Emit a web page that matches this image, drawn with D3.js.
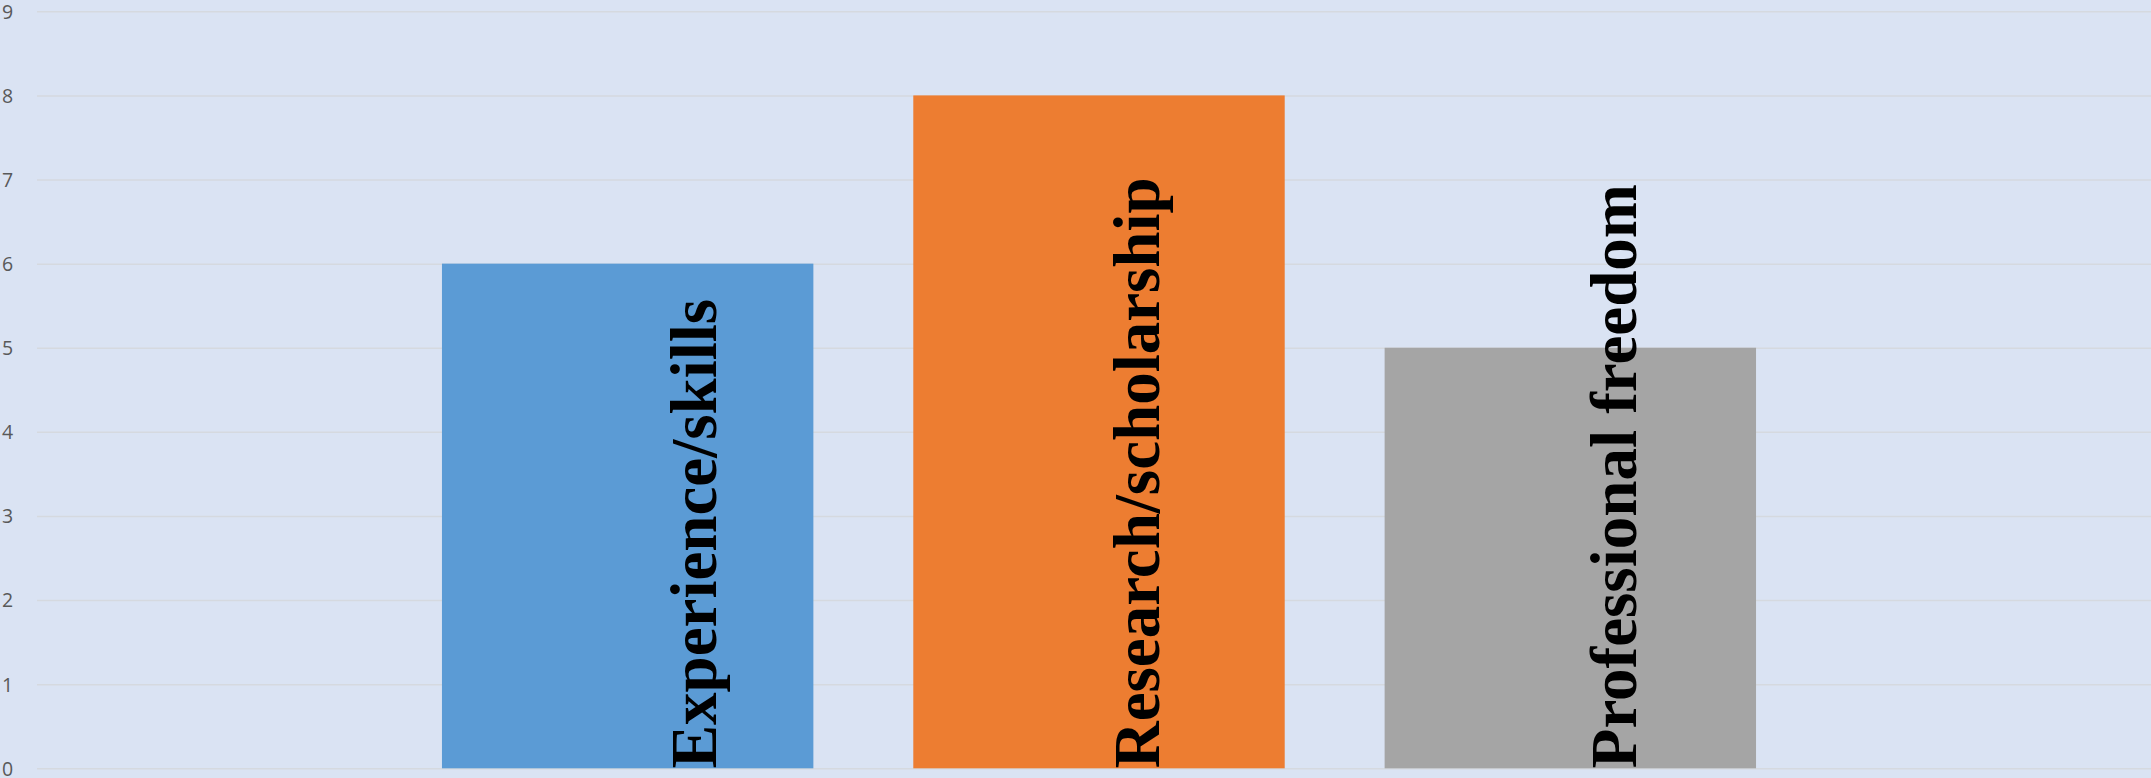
<!DOCTYPE html>
<html>
<head>
<meta charset="utf-8">
<script src="https://cdn.jsdelivr.net/npm/d3@7"></script>
<style>
  html, body { margin: 0; padding: 0; background: #DAE3F3; overflow: hidden; }
  svg { display: block; }
</style>
</head>
<body>
<svg id="chart" width="2151" height="778"></svg>
<script>
// Chart data
const categories = ["Experience/skills", "Research/scholarship", "Professional freedom"];
const values = [6, 8, 5];
const barColors = ["#5B9BD5", "#ED7D31", "#A5A5A5"];
const yTicks = [0, 1, 2, 3, 4, 5, 6, 7, 8, 9];

// Layout
const W = 2151, H = 778;
const gridLeft = 37;
const labelShift = [88, 60, 66];   // horizontal offset of each rotated label's baseline from bar centre

const svg = d3.select("#chart");

svg.append("rect")
  .attr("width", W).attr("height", H)
  .attr("fill", "#DAE3F3");

const y = d3.scaleLinear().domain([0, 9]).range([768.3, 11.3]);
const x = d3.scaleBand()
  .domain(categories)
  .range([392, 1806])
  .paddingInner(0.212)
  .paddingOuter(0.106);

// Horizontal gridlines with value labels at the left edge
const yAxis = d3.axisLeft(y)
  .tickValues(yTicks)
  .tickSize(-(W - gridLeft))
  .tickPadding(0)
  .tickFormat(d3.format("d"));

const gAxis = svg.append("g")
  .attr("transform", `translate(${gridLeft},0)`)
  .call(yAxis);
gAxis.select(".domain").remove();
gAxis.selectAll(".tick line")
  .attr("stroke", "#D5D9DF")
  .attr("stroke-width", 1.5);
gAxis.selectAll(".tick text")
  .attr("x", -gridLeft + 2)
  .attr("text-anchor", "start")
  .attr("dy", "0.35em")
  .attr("fill", "#595959")
  .style("font-family", "'Open Sans', 'Noto Sans', sans-serif")
  .style("font-size", "19.5px");

// Bars
svg.append("g")
  .selectAll("rect")
  .data(values)
  .join("rect")
  .attr("x", (d, i) => x(categories[i]))
  .attr("y", d => y(d))
  .attr("width", x.bandwidth())
  .attr("height", d => y(0) - y(d))
  .attr("fill", (d, i) => barColors[i]);

// Rotated category labels reading upward from the baseline
svg.append("g")
  .selectAll("text")
  .data(categories)
  .join("text")
  .attr("transform", (d, i) =>
    `translate(${x(d) + x.bandwidth() / 2 + labelShift[i]},${y(0)}) rotate(-90)`)
  .attr("x", 0)
  .attr("y", 0)
  .attr("text-anchor", "start")
  .attr("fill", "#000000")
  .style("font-family", "'Liberation Serif', 'Times New Roman', serif")
  .style("font-weight", "bold")
  .style("font-size", "65px")
  .text(d => d);
</script>
</body>
</html>
